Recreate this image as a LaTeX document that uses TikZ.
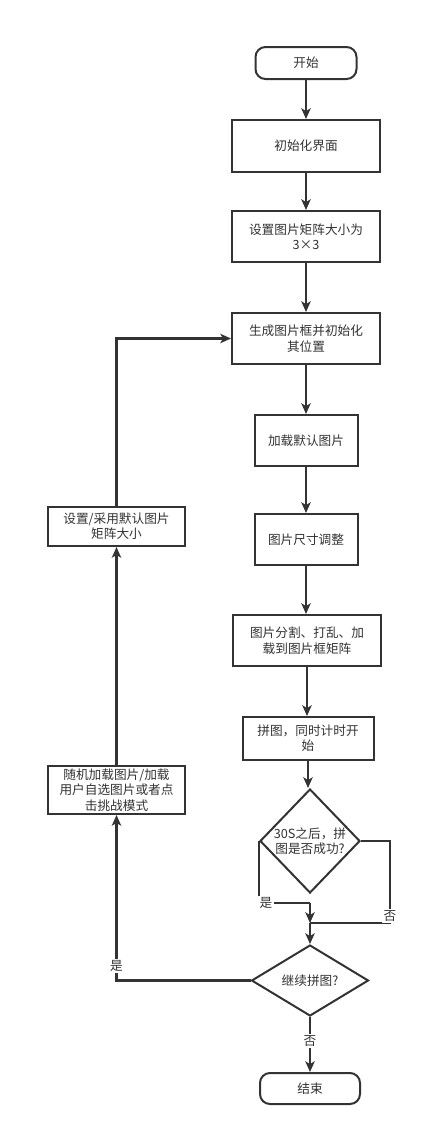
\documentclass[tikz,border=0pt]{standalone}
\usepackage{fontspec}
\setmainfont{Noto Sans CJK SC}
\usetikzlibrary{shapes.geometric,arrows.meta}
\definecolor{ink}{HTML}{333333}
\begin{document}
\begin{tikzpicture}[x=0.75pt,y=-0.75pt,
  every node/.style={font=\fontsize{9.5pt}{11.5pt}\selectfont, text=ink},
  box/.style={draw=ink, line width=1.5pt, rectangle, align=center, inner sep=1pt},
  term/.style={box, rounded corners=7.5pt},
  dia/.style={draw=ink, line width=1.5pt, diamond, inner sep=0pt},
  arr/.style={draw=ink, line width=1.6pt, -{Stealth[length=8pt,width=7pt,inset=2pt]}},
  ln/.style={draw=ink, line width=1.6pt},
  lbl/.style={fill=white, inner sep=1pt}]
\useasboundingbox[fill=white] (0,0) rectangle (423,1136);

% main column
\node[term, minimum width=75.75pt, minimum height=24pt] (start) at (306,63) {开始};
\node[box, minimum width=111pt, minimum height=39pt] (init) at (306,146) {初始化界面};
\node[box, minimum width=111pt, minimum height=38.25pt] (setsize) at (306,236.5) {设置图片矩阵大小为\\3×3};
\node[box, minimum width=111pt, minimum height=38.25pt] (gen) at (306,338.5) {生成图片框并初始化\\其位置};
\node[box, minimum width=77.25pt, minimum height=38.25pt] (load) at (306,440.5) {加载默认图片};
\node[box, minimum width=77.25pt, minimum height=38.25pt] (resize) at (306,539.5) {图片尺寸调整};
\node[box, minimum width=111pt, minimum height=38.25pt] (split) at (307,640.5) {图片分割、打乱、加\\载到图片框矩阵};
\node[box, minimum width=98.25pt, minimum height=32.25pt] (puzzle) at (308,738.5) {拼图，同时计时开\\始};
\node[dia, minimum width=75pt, minimum height=78pt] (d1) at (310,841) {};
\node[align=center] (d1t) at (310,841) {30S之后，拼\\图是否成功?};
\node[dia, minimum width=87.75pt, minimum height=53.25pt] (d2) at (310,980.5) {};
\node (d2t) at (310,980.5) {继续拼图?};
\node[term, minimum width=75pt, minimum height=23.25pt] (end) at (310,1088.5) {结束};

% left column
\node[box, minimum width=102.75pt, minimum height=29.25pt] (left1) at (116.5,526.5) {设置/采用默认图片\\矩阵大小};
\node[box, minimum width=102.75pt, minimum height=36pt] (left2) at (116.5,790) {随机加载图片/加载\\用户自选图片或者点\\击挑战模式};

% main arrows
\draw[arr] (start.south) -- (start.south |- init.north);
\draw[arr] (init.south) -- (init.south |- setsize.north);
\draw[arr] (setsize.south) -- (setsize.south |- gen.north);
\draw[arr] (gen.south) -- (gen.south |- load.north);
\draw[arr] (load.south) -- (load.south |- resize.north);
\draw[arr] (resize.south) -- (resize.south |- split.north);
\draw[arr] (split.south) -- (split.south |- puzzle.north);
\draw[arr] (puzzle.south) -- (puzzle.south |- d1.north);

% decision 1 branches
\coordinate (yes1) at (310,903);
\coordinate (join) at (310,923);
\coordinate (no1) at (390,841);
\draw[ln] (d1.west) |- (yes1);
\draw[arr] (yes1) -- (join);
\node[lbl] (yes1l) at (266,903) {是};
\draw[ln] (d1.east) -- (no1) -- (no1 |- join) -- (join);
\node[lbl] (no1l) at (390,916) {否};
\draw[arr] (join) -- (d2.north);

% decision 2
\draw[arr] (d2.south) -- (end.north);
\node[lbl] (no2l) at (310,1041) {否};
\draw[arr] (d2.west) -| (left2.south);
\node[lbl] (yes2l) at (116.5,966) {是};
\draw[arr] (left2.north) -- (left1.south);
\draw[arr] (left1.north) |- (gen.west);
\end{tikzpicture}
\end{document}
